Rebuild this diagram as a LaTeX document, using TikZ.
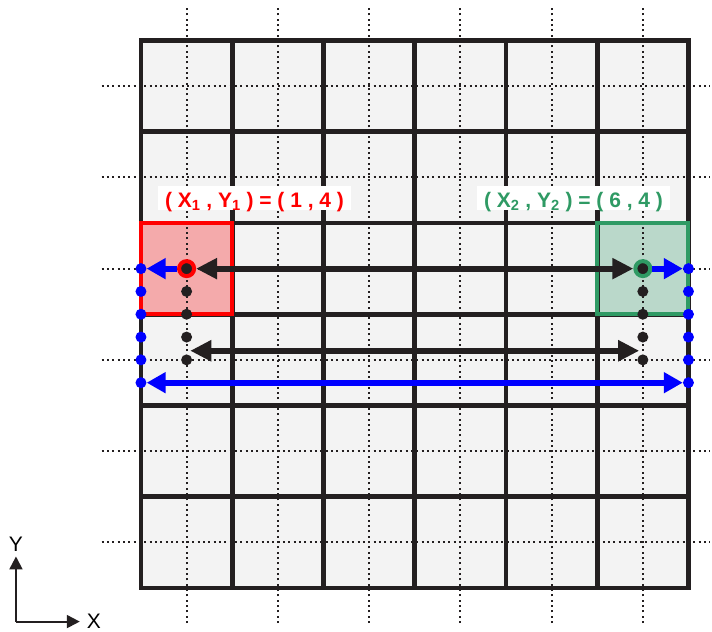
\documentclass[tikz,border=0pt]{standalone}
\usepackage{fontspec}
\setmainfont{Liberation Sans}
\usepackage{tikz}
\usetikzlibrary{arrows.meta,positioning,calc}
\definecolor{Ink}{HTML}{231F20}
\definecolor{Cell}{HTML}{F3F3F3}
\definecolor{Red}{HTML}{FF0000}
\definecolor{RedFill}{HTML}{F4AAAB}
\definecolor{Green}{HTML}{2F9A64}
\definecolor{GreenFill}{HTML}{BAD8CA}
\definecolor{Blue}{HTML}{0000FF}

\begin{document}
\begin{tikzpicture}[x=91.25pt,y=91.25pt,
    g/.style={line width=4.6pt,draw=Ink},
    dl/.style={line width=2pt,draw=Ink,dash pattern=on 2pt off 3.33pt},
    bd/.style={circle,fill=Ink,inner sep=0pt,minimum size=11pt},
    ud/.style={circle,fill=Blue,inner sep=0pt,minimum size=11pt},
    pt/.style={circle,fill=Ink,line width=4pt,inner sep=0pt,minimum size=15pt},
    a/.style={{Triangle[length=21pt,width=20pt]}-{Triangle[length=21pt,width=20pt]},line width=6pt,draw=Ink},
    ba/.style={-{Triangle[length=19pt,width=20pt]},line width=6pt,draw=Blue},
    ax/.style={-{Triangle[length=13pt,width=13pt]},line width=2pt,draw=Ink,shorten >=4pt},
    lbl/.style={fill=white,font=\bfseries\fontsize{21}{24}\selectfont,inner xsep=7pt,inner ysep=2.5pt,text height=19pt,text depth=0pt},
    axl/.style={font=\fontsize{21}{24}\selectfont,inner sep=1pt}]
    \useasboundingbox (-1.545,-0.482) rectangle (6.258,6.444);
    \fill[Cell] (0,0) rectangle (6,6);
    \fill[RedFill] (0,3) rectangle (1,4);
    \fill[GreenFill] (5,3) rectangle (6,4);
    \foreach \i in {0,...,5} {
      \draw[dl] (\i+0.5,-0.384) -- (\i+0.5,6.367);
      \draw[dl] (-0.43,\i+0.5) -- (6.24,\i+0.5);
    }
    \foreach \i in {1,...,5} {
      \draw[g] (\i,0) -- (\i,6);
      \draw[g] (0,\i) -- (6,\i);
    }
    \draw[g] (0,0) rectangle (6,6);
    \draw[Red,line width=4pt] (0,3) rectangle (1,4);
    \draw[Green,line width=4pt] (5,3) rectangle (6,4);
    \node[lbl,text=Red] (t1) at (1.244,4.279) {( X\textsubscript{1} , Y\textsubscript{1} ) = ( 1 , 4 )};
    \node[lbl,text=Green] (t2) at (4.740,4.279) {( X\textsubscript{2} , Y\textsubscript{2} ) = ( 6 , 4 )};
    \foreach \k [count=\n] in {3.25,3,2.75,2.5} {
      \node[bd] (dl\n) at (0.5,\k) {};
      \node[bd] (dr\n) at (5.5,\k) {};
    }
    \foreach \k [count=\n] in {3.5,3.25,3,2.75,2.5,2.25} {
      \node[ud] (ul\n) at (0,\k) {};
      \node[ud] (ur\n) at (6,\k) {};
    }
    \node[pt,draw=Red] (p1) at (0.5,3.5) {};
    \node[pt,draw=Green] (p2) at (5.5,3.5) {};
    \coordinate (m1) at (0.54,2.6);
    \coordinate (m2) at (5.46,2.6);
    \draw[a] (p1) -- (p2);
    \draw[a] (m1) -- (m2);
    \draw[ba] (p1) -- (ul1);
    \draw[ba] (p2) -- (ur1);
    \draw[ba,{Triangle[length=19pt,width=20pt]}-{Triangle[length=19pt,width=20pt]}] (ul6) -- (ur6);
    \coordinate (o) at (-1.370,-0.368);
    \node[axl] (ay) at (-1.370,0.482) {Y};
    \node[axl] (axx) at (-0.515,-0.368) {X};
    \draw[ax] (o) -- (ay);
    \draw[ax,shorten >=6pt] (o) -- (axx);
\end{tikzpicture}
\end{document}
